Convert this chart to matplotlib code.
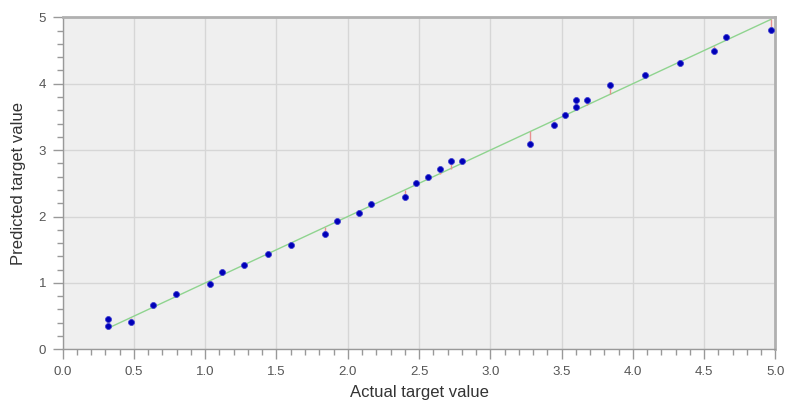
import matplotlib
matplotlib.use("Agg")
import matplotlib.pyplot as plt
from matplotlib.ticker import MultipleLocator

plt.rcParams["font.family"] = ["Liberation Sans", "DejaVu Sans"]

# =============== Datos ===============
actual = [0.316, 0.316, 0.477, 0.634, 0.797, 1.036, 1.118, 1.275, 1.443, 1.602,
          1.843, 1.923, 2.081, 2.164, 2.404, 2.482, 2.563, 2.645, 2.723, 2.804,
          3.282, 3.445, 3.525, 3.604, 3.604, 3.681, 3.843, 4.084, 4.332, 4.573,
          4.653, 4.97]
predicted = [0.46, 0.35, 0.416, 0.67, 0.83, 0.983, 1.169, 1.27, 1.43, 1.57,
             1.73, 1.93, 2.05, 2.19, 2.30, 2.50, 2.60, 2.72, 2.835, 2.84,
             3.09, 3.38, 3.53, 3.65, 3.755, 3.755, 3.98, 4.135, 4.307, 4.49,
             4.70, 4.81]

x_ticks = [0.0, 0.5, 1.0, 1.5, 2.0, 2.5, 3.0, 3.5, 4.0, 4.5, 5.0]
y_ticks = [0, 1, 2, 3, 4, 5]

# =============== Grafico ===============
fig = plt.figure(figsize=(7.86, 4.03), dpi=100)
ax = fig.add_axes([0.0798, 0.1332, 0.9066, 0.8238])
ax.set_facecolor("#efefef")

# linea ideal y = x
lo, hi = min(actual), max(actual)
ax.plot([lo, hi], [lo, hi], color="#8fd48f", lw=1.0, zorder=2)

# residuos
ax.vlines(actual, actual, predicted, color="#e89090", lw=1.0, zorder=3)

# puntos
ax.plot(actual, predicted, "o", color="#0000b8", markersize=4.3,
        markeredgewidth=0.6, markeredgecolor="#4040d0", zorder=4)

ax.set_xlim(0, 5)
ax.set_ylim(0, 5)
ax.set_xticks(x_ticks)
ax.set_xticklabels([f"{v:.1f}" for v in x_ticks])
ax.set_yticks(y_ticks)
ax.xaxis.set_minor_locator(MultipleLocator(0.1))
ax.yaxis.set_minor_locator(MultipleLocator(0.2))

ax.grid(True, which="major", color="#d6d6d6", lw=1.0)
ax.set_axisbelow(True)

ax.tick_params(which="major", direction="out", length=7, width=1,
               color="#999999", labelcolor="#555555", labelsize=9.5, pad=5)
ax.tick_params(which="minor", direction="out", length=4, width=1, color="#999999")

for side in ["left", "bottom"]:
    ax.spines[side].set_color("#999999")
    ax.spines[side].set_linewidth(1.0)
for side in ["top", "right"]:
    ax.spines[side].set_color("#b0b0b0")
    ax.spines[side].set_linewidth(2.0)

ax.set_xlabel("Actual target value", fontsize=12, color="#333333", labelpad=5)
ax.set_ylabel("Predicted target value", fontsize=12, color="#333333", labelpad=9)

plt.savefig("out.png", dpi=100)
